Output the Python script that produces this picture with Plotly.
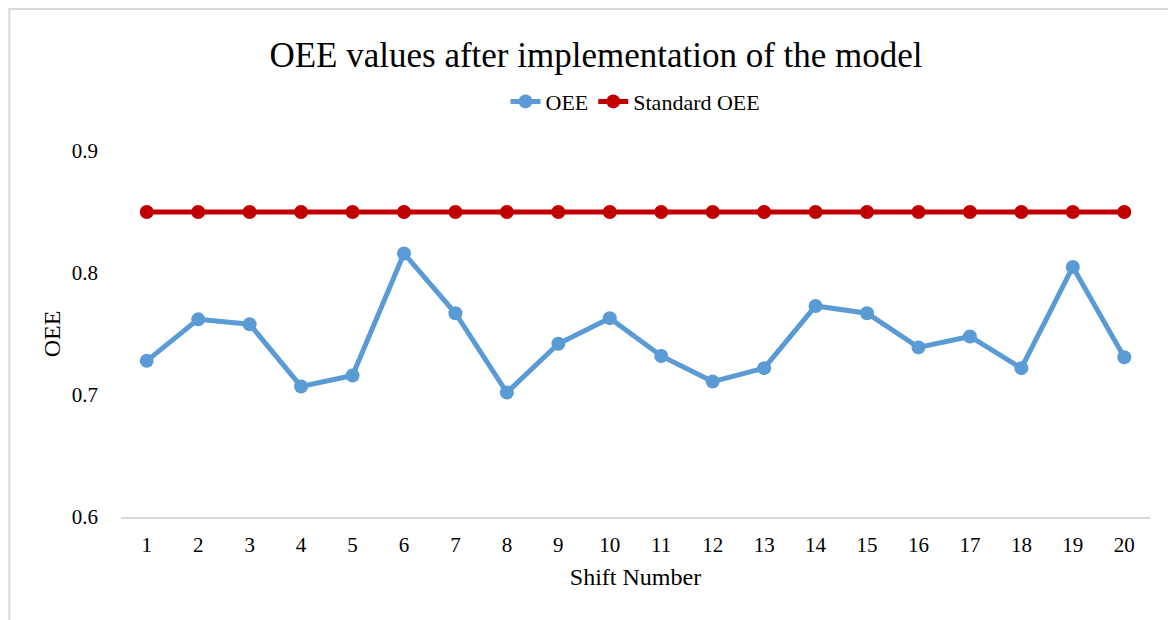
import plotly.graph_objects as go

shifts = list(range(1, 21))
oee = [0.728, 0.762, 0.758, 0.707, 0.716, 0.816, 0.767, 0.702, 0.742, 0.763,
       0.732, 0.711, 0.722, 0.773, 0.767, 0.739, 0.748, 0.722, 0.805, 0.731]
standard = [0.85] * 20
y_ticks = [0.6, 0.7, 0.8, 0.9]

FONT = "Liberation Serif, Times New Roman, serif"

fig = go.Figure()
fig.add_trace(go.Scatter(x=shifts, y=oee, name="OEE", mode="lines+markers",
                         line=dict(color="#5B9BD5", width=5),
                         marker=dict(color="#5B9BD5", size=14)))
fig.add_trace(go.Scatter(x=shifts, y=standard, name="Standard OEE", mode="lines+markers",
                         line=dict(color="#C00000", width=5),
                         marker=dict(color="#C00000", size=14)))

fig.update_layout(
    width=1176, height=620,
    margin=dict(l=113, r=34, t=143, b=111),
    paper_bgcolor="white", plot_bgcolor="white",
    font=dict(family=FONT, color="black", size=20),
    title=dict(text="OEE values after implementation of the model", x=0.5, xanchor="center",
               y=0.925, yanchor="middle", font=dict(size=35, family=FONT)),
    legend=dict(orientation="h", x=0.5, xanchor="center", y=1.135, yanchor="middle",
                font=dict(size=22, family=FONT), traceorder="normal"),
    showlegend=True,
)
fig.update_xaxes(range=[0.5, 20.5], tickmode="array", tickvals=shifts,
                 ticktext=[str(s) for s in shifts], showgrid=False, zeroline=False,
                 showline=True, linecolor="#D9D9D9", linewidth=2, ticks="",
                 tickfont=dict(size=21), ticklabelstandoff=8,
                 title=dict(text="Shift Number", font=dict(size=24), standoff=12))
fig.update_yaxes(range=[0.6, 0.9], tickmode="array", tickvals=y_ticks,
                 ticktext=[str(v) for v in y_ticks], showgrid=False, zeroline=False,
                 showline=False, ticks="", tickfont=dict(size=21), ticklabelstandoff=22,
                 title=dict(text="OEE", font=dict(size=24), standoff=4))

fig.add_shape(type="rect", xref="paper", yref="paper",
              x0=-0.1085, x1=1.2, y0=-0.5, y1=1.388,
              line=dict(color="#D9D9D9", width=2), fillcolor="rgba(0,0,0,0)", layer="below")

fig.write_html("out.html")
